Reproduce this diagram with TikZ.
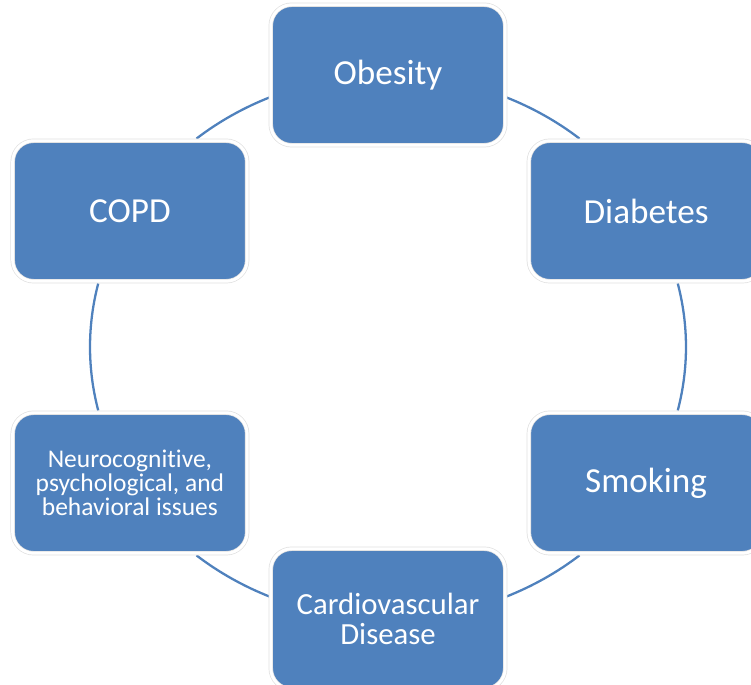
\documentclass[tikz,border=0pt]{standalone}
\usepackage{fontspec}
\setmainfont{Carlito}[Ligatures=NoCommon]
\usepackage{tikz}

\definecolor{boxblue}{HTML}{4F81BD}
\tikzset{
  cyclebox/.style={rectangle, rounded corners=0.42cm, fill=boxblue, draw=black!12,
    double=white, double distance=1.7pt, line width=0.4pt,
    minimum width=4.69cm, minimum height=2.81cm, inner sep=0pt,
    text=white, align=center, font=\fontsize{20}{24}\selectfont},
  cyclearc/.style={draw=boxblue, line width=1.3pt}
}

\begin{document}
\begin{tikzpicture}[x=0.02cm, y=0.02cm]
\useasboundingbox (-388,-338) rectangle (363,347);
% arcs between the boxes
\foreach \a/\b [count=\i] in {50/66.7, 113.3/130, 166.5/193.5, 230/246.7, 293.3/310, 346.5/373.5} {
  \coordinate (arc\i) at (\a:298 and 272);
  \draw[cyclearc] (arc\i) arc[start angle=\a, end angle=\b, x radius=298, y radius=272];
}
\node[cyclebox] (obesity) at (90:298 and 272) {Obesity};
\node[cyclebox] (diabetes) at (30:298 and 272) {Diabetes};
\node[cyclebox] (smoking) at (-30:298 and 272) {Smoking};
\node[cyclebox, font=\fontsize{17.5}{17}\selectfont] (cardio) at (-90:298 and 272) {Cardiovascular\\Disease};
\node[cyclebox, font=\fontsize{14.5}{13.8}\selectfont] (neuro) at (210:298 and 272) {Neurocognitive,\\psychological, and\\behavioral issues};
\node[cyclebox] (copd) at (150:298 and 272) {COPD};
\end{tikzpicture}
\end{document}
